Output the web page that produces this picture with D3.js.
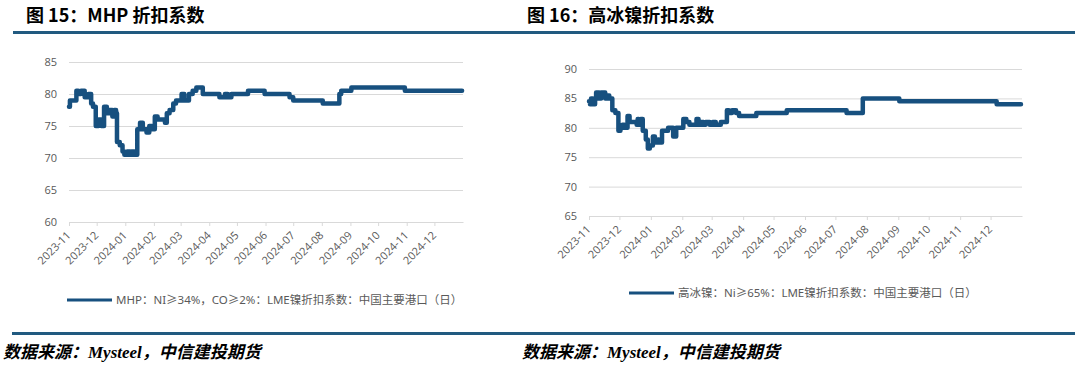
<!DOCTYPE html>
<meta charset="utf-8">
<head>
  <title>折扣系数</title>
</head>

<style>
body { margin: 0; background: #fff; }
svg { display: block; }
.title { font-family: "Noto Sans CJK SC", sans-serif; font-weight: bold; font-size: 18px; fill: #000; }
.tick text { font-family: "Open Sans", sans-serif; font-size: 11px; fill: #595959; }
.legend { font-family: "Noto Sans", "Noto Sans CJK SC", sans-serif; font-size: 11.5px; fill: #595959; }
.source { font-family: "Liberation Serif", "Noto Sans CJK SC", serif; font-style: italic; font-weight: bold; font-size: 17px; fill: #000; }
</style>

<body>
  <svg width="1080" height="375"></svg>

  <script src="https://cdnjs.cloudflare.com/ajax/libs/d3/7.8.5/d3.min.js"></script>
  <script>
// MHP: NI>=34%, CO>=2% discount coefficient (daily)
var mhpDates = ['2023-11-01','2023-11-02','2023-11-07','2023-11-09','2023-11-11','2023-11-14','2023-11-18','2023-11-22',
  '2023-11-25','2023-11-27','2023-11-30','2023-12-03','2023-12-06','2023-12-09','2023-12-12','2023-12-15','2023-12-18',
  '2023-12-20','2023-12-22','2023-12-23','2023-12-26','2023-12-29','2023-12-31','2024-01-03','2024-01-06','2024-01-08',
  '2024-01-11','2024-01-14','2024-01-17','2024-01-20','2024-01-24','2024-01-27','2024-01-30','2024-02-02','2024-02-05',
  '2024-02-13','2024-02-15','2024-02-18','2024-02-22','2024-02-25','2024-03-02','2024-03-05','2024-03-10','2024-03-14',
  '2024-03-18','2024-03-25','2024-04-12','2024-04-18','2024-04-21','2024-04-25','2024-05-13','2024-05-31','2024-06-27',
  '2024-07-01','2024-08-02','2024-08-20','2024-08-22','2024-09-02','2024-10-30','2024-12-31']
var mhpValues = [78,79,79,80.5,80,80.5,79.5,80,
  78.5,78,75,76,75,78,77,77.5,76.5,
  77.5,77,72.5,72,71,70.5,71,70.5,71,
  70.5,74.5,75.5,74.5,74,75,74.5,76.5,76,
  75.5,77,77.5,78.5,79,80,79,80,80.5,
  81,80,79.5,80,79.5,80,80.5,80,79.5,
  79,78.5,80,80.5,81,80.5,80.5]

// 高冰镍: Ni>=65% discount coefficient
var hniDates = ['2023-11-01','2023-11-02','2023-11-03','2023-11-05','2023-11-07','2023-11-08','2023-11-11','2023-11-13',
  '2023-11-17','2023-11-19','2023-11-21','2023-11-24','2023-11-27','2023-11-30','2023-12-02','2023-12-04','2023-12-06',
  '2023-12-09','2023-12-11','2023-12-18','2023-12-19','2023-12-20','2023-12-22','2023-12-24','2023-12-27','2023-12-29',
  '2023-12-31','2024-01-03','2024-01-05','2024-01-08','2024-01-09','2024-01-12','2024-01-18','2024-01-23','2024-01-26',
  '2024-02-02','2024-02-05','2024-02-08','2024-02-15','2024-02-17','2024-02-19','2024-02-22','2024-02-24','2024-02-28',
  '2024-03-02','2024-03-05','2024-03-10','2024-03-16','2024-03-18','2024-03-21','2024-03-25','2024-03-28','2024-04-14',
  '2024-05-14','2024-07-12','2024-07-28','2024-09-02','2024-12-07','2024-12-31']
var hniValues = [84.5,84,85,84,85,86,85,86,
  85,85.5,85,83,82.5,79.5,80,80.5,80,
  82,81,80.5,81.5,80.5,81.5,79.5,78,76.5,
  77,78.5,77.5,78,77.5,79.5,80,78.5,80,
  81.5,81,80.5,81.5,80.5,81,80.5,81,80.5,
  81,80.5,81,83,82.5,83,82.5,82,82.5,
  83,82.5,85,84.5,84,84]

var monthTicks = ['2023-11','2023-12','2024-01','2024-02','2024-03','2024-04','2024-05',
  '2024-06','2024-07','2024-08','2024-09','2024-10','2024-11','2024-12']
var mhpTicks = [60, 65, 70, 75, 80, 85]
var hniTicks = [65, 70, 75, 80, 85, 90]

var parseDay = d3.timeParse('%Y-%m-%d')
var parseMonth = d3.timeParse('%Y-%m')
var lineColor = '#17507f'
var ruleColor = '#215a80'

var svg = d3.select('svg')

// header / footer rules
svg.append('rect').attr('x', 13).attr('y', 31).attr('width', 1062).attr('height', 3).attr('fill', ruleColor)
svg.append('rect').attr('x', 12).attr('y', 332).attr('width', 1063).attr('height', 3).attr('fill', ruleColor)

svg.append('text').attr('class', 'title').attr('x', 26).attr('y', 22).text('图 15：MHP 折扣系数')
svg.append('text').attr('class', 'title').attr('x', 527).attr('y', 22).text('图 16：高冰镍折扣系数')

svg.append('text').attr('class', 'source').attr('x', 3).attr('y', 358).text('数据来源：Mysteel，中信建投期货')
svg.append('text').attr('class', 'source').attr('x', 522).attr('y', 358).text('数据来源：Mysteel，中信建投期货')

function drawChart(opt) {
  var x = d3.scaleTime()
    .domain([parseDay('2023-11-01'), parseDay('2025-01-01')])
    .range([opt.left, opt.right])
  var y = d3.scaleLinear()
    .domain(d3.extent(opt.yTicks))
    .range([opt.bottom, opt.top])

  var g = svg.append('g')

  // grid + y labels
  var yAxis = d3.axisLeft(y).tickValues(opt.yTicks).tickSize(-(opt.right - opt.left)).tickPadding(12)
  g.append('g')
    .attr('transform', 'translate(' + opt.left + ',0)')
    .call(yAxis)
    .call(function(s) {
      s.select('.domain').remove()
      s.selectAll('.tick line').attr('stroke', '#d9d9d9')
    })

  // x axis with rotated month labels
  var xAxis = d3.axisBottom(x)
    .tickValues(monthTicks.map(parseMonth))
    .tickFormat(d3.timeFormat('%Y-%m'))
    .tickSize(4)
    .tickSizeOuter(0)
  g.append('g')
    .attr('transform', 'translate(0,' + opt.bottom + ')')
    .call(xAxis)
    .call(function(s) {
      s.select('.domain').attr('stroke', '#d9d9d9')
      s.selectAll('.tick line').attr('stroke', '#d9d9d9')
      s.selectAll('.tick text')
        .attr('text-anchor', 'end')
        .attr('x', 0).attr('y', 0).attr('dy', 0)
        .attr('transform', 'translate(2,14) rotate(-45)')
    })

  var data = opt.dates.map(function(d, i) { return { date: parseDay(d), value: opt.values[i] } })
  var line = d3.line()
    .x(function(d) { return x(d.date) })
    .y(function(d) { return y(d.value) })
    .curve(d3.curveStepAfter)

  g.append('path')
    .datum(data)
    .attr('fill', 'none')
    .attr('stroke', lineColor)
    .attr('stroke-width', 4.5)
    .attr('stroke-linejoin', 'round')
    .attr('stroke-linecap', 'round')
    .attr('d', line)

  // legend
  g.append('line')
    .attr('x1', opt.legendX).attr('x2', opt.legendX + 45)
    .attr('y1', opt.legendY).attr('y2', opt.legendY)
    .attr('stroke', lineColor).attr('stroke-width', 3)
  g.append('text').attr('class', 'legend')
    .attr('x', opt.legendX + 49).attr('y', opt.legendY + 4)
    .text(opt.label)
}

drawChart({
  left: 69, right: 463, top: 62, bottom: 222,
  yTicks: mhpTicks, dates: mhpDates, values: mhpValues,
  legendX: 67, legendY: 300,
  label: 'MHP：NI≥34%，CO≥2%：LME镍折扣系数：中国主要港口（日）'
})

drawChart({
  left: 589, right: 1022, top: 69, bottom: 216,
  yTicks: hniTicks, dates: hniDates, values: hniValues,
  legendX: 629, legendY: 293,
  label: '高冰镍：Ni≥65%：LME镍折扣系数：中国主要港口（日）'
})
  </script>
</body>
</html>
